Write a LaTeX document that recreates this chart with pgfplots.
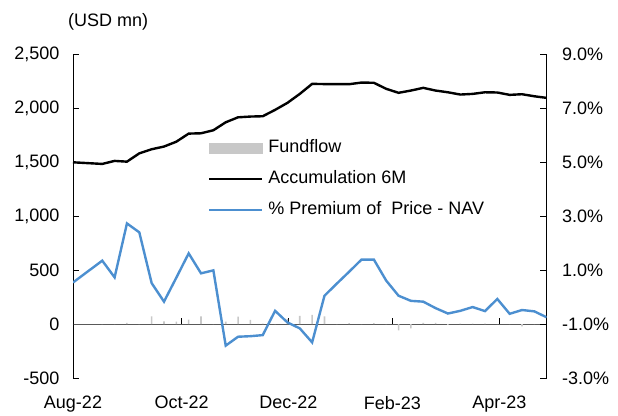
\documentclass[border=0pt]{standalone}
\usepackage{pgfplots}
\usepackage{pgfplotstable}
\pgfplotsset{compat=1.18}
\usepackage{fontspec}
\setmainfont{Liberation Sans}
\definecolor{premblue}{RGB}{76,143,208}
\definecolor{flowgray}{RGB}{200,200,200}
\definecolor{zerogray}{RGB}{89,89,89}
\newcommand\ff{\fontsize{18bp}{21bp}\selectfont}
\pgfplotsset{
 mylineleg/.style={legend image code/.code={\draw[##1] (0bp,0bp) -- (53bp,0bp);}},
 mybarleg/.style={legend image code/.code={\fill[flowgray] (0bp,-5bp) rectangle (53bp,5bp);}},
}
\pgfplotstableread{
x flow acc prem
0 0 1499 0.54
2.37 0 1484 1.35
3.37 0 1512 0.73
4.37 10 1505 2.73
5.37 0 1582 2.40
6.37 71 1620 0.52
7.37 25 1645 -0.17
8.37 22 1690 0.72
9.37 42 1765 1.62
10.37 72 1768 0.88
11.37 0 1796 0.99
12.37 22 1870 -1.80
13.37 68 1916 -1.47
14.37 38 1923 -1.45
15.37 5 1926 -1.41
16.37 0 1985 -0.51
17.37 45 2050 -0.94
18.37 75 2133 -1.16
19.37 85 2226 -1.68
20.37 70 2224 0.05
21.37 0 2223 0.50
22.37 8 2223 0.94
23.37 0 2238 1.39
24.37 9 2236 1.39
25.37 0 2180 0.61
26.37 -58 2143 0.05
27.37 -40 2164 -0.14
28.37 10 2189 -0.17
29.37 10 2164 -0.41
30.37 -8 2148 -0.61
31.37 5 2127 -0.51
32.37 5 2133 -0.37
33.37 5 2148 -0.52
34.37 0 2146 -0.07
35.37 0 2124 -0.62
36.37 -22 2130 -0.48
37.37 0 2111 -0.53
38.37 0 2096 -0.75
}\datatable
\begin{document}
\begin{tikzpicture}
\begin{axis}[
 scale only axis, width=473.7bp, height=323.7bp,
 xmin=0, xmax=38.37, ymin=-500, ymax=2500,
 axis y line*=left, axis x line*=middle,
 hide obscured x ticks=false,
 ytick={-500,0,...,2500},
 xtick={0,8.806,17.44,25.87,34.53},
 xticklabels={Aug-22,Oct-22,Dec-22,Feb-23,Apr-23},
 tick label style={font=\ff},
 /pgf/number format/assume math mode=true,
 /pgf/number format/1000 sep={,},
 yticklabel style={xshift=-10bp},
 xticklabel style={yshift=-68.5bp},
 ytick align=inside, xtick align=inside,
 major tick length=6.5bp,
 y axis line style={black, line width=0.9bp},
 x axis line style={zerogray, line width=1.1bp},
 tick style={black, line width=0.9bp},
]
\addplot[ybar, bar width=1.6bp, fill=flowgray, draw=none] table[x=x,y=flow]{\datatable};
\addplot[black, line width=2.4bp, no markers] table[x=x,y=acc]{\datatable};
\coordinate (BL) at (rel axis cs:0,0);
\end{axis}
\begin{axis}[
 scale only axis, width=473.7bp, height=323.7bp,
 xmin=0, xmax=38.37, ymin=-3, ymax=9,
 axis y line*=right, axis x line=none,
 ytick={-3,-1,...,9},
 yticklabel={\pgfmathprintnumber[fixed,fixed zerofill,precision=1]{\tick}\%},
 tick label style={font=\ff},
 /pgf/number format/assume math mode=true,
 yticklabel style={xshift=12bp},
 ytick align=inside,
 major tick length=6.5bp,
 y axis line style={black, line width=0.9bp},
 tick style={black, line width=0.9bp},
 legend style={draw=none, fill=none, at={(0.285,0.736)}, anchor=north west, font=\ff,
   inner sep=0pt, outer sep=0pt, row sep=13.8bp,
   nodes={inner sep=0pt, text height=13bp, text depth=4bp},
   /tikz/every odd column/.append style={column sep=5bp}},
 legend cell align=left,
]
\addlegendimage{mybarleg}
\addlegendentry{Fundflow}
\addlegendimage{mylineleg, black, line width=2.4bp}
\addlegendentry{Accumulation 6M}
\addplot[premblue, line width=2.4bp, no markers, mylineleg] table[x=x,y=prem]{\datatable};
\addlegendentry{\% Premium of~ Price - NAV}
\end{axis}
\node[anchor=west, font=\ff, inner sep=0pt] at ([shift={(-5bp,356bp)}]BL) {(USD mn)};
\pgfresetboundingbox
\path ([shift={(-73bp,-38bp)}]BL) rectangle ++(618bp,416bp);
\end{tikzpicture}
\end{document}
